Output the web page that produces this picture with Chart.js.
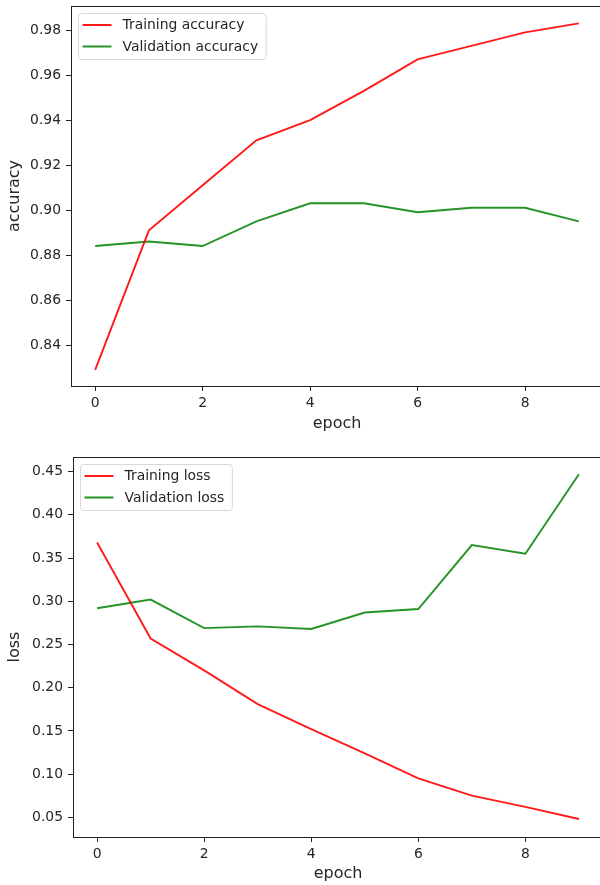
<!DOCTYPE html>
<html>
<head>
<meta charset="utf-8">
<script src="https://cdn.jsdelivr.net/npm/chart.js@4"></script>
<style>
    html, body { margin: 0; padding: 0; background: #fff; overflow: hidden; width: 600px; height: 885px; }
    .wrap { position: absolute; left: 0; width: 603px; }
    #accWrap { top: 0; height: 440px; }
    #lossWrap { top: 440px; height: 445px; }
</style>
</head>
<body>
<div class="wrap" id="accWrap"><canvas id="accChart"></canvas></div>
<div class="wrap" id="lossWrap"><canvas id="lossChart"></canvas></div>
<script>
// epochs 0..9
var epochs = [0, 1, 2, 3, 4, 5, 6, 7, 8, 9];
var trainAcc = [0.829, 0.891, 0.911, 0.931, 0.940, 0.953, 0.967, 0.973, 0.979, 0.983];
var valAcc = [0.884, 0.886, 0.884, 0.895, 0.903, 0.903, 0.899, 0.901, 0.901, 0.895];
var trainLoss = [0.368, 0.257, 0.220, 0.181, 0.152, 0.124, 0.095, 0.075, 0.062, 0.048];
var valLoss = [0.292, 0.302, 0.269, 0.271, 0.268, 0.287, 0.291, 0.365, 0.355, 0.447];

var epochTicks = [0, 2, 4, 6, 8];
var accTicks = [0.84, 0.86, 0.88, 0.90, 0.92, 0.94, 0.96, 0.98];
var lossTicks = [0.05, 0.10, 0.15, 0.20, 0.25, 0.30, 0.35, 0.40, 0.45];

var FONT = "'DejaVu Sans', sans-serif";
var TXT = '#262626';
var RED = 'rgba(255,0,0,0.9)';
var GREEN = 'rgba(0,128,0,0.85)';

// box round the plot + legend in the upper left corner
var framePlugin = {
    id: 'frame',
    afterDraw: function (chart) {
        var ctx = chart.ctx, a = chart.chartArea;
        ctx.save();
        ctx.strokeStyle = '#222';
        ctx.lineWidth = 1;
        ctx.strokeRect(Math.round(a.left) + 0.5, Math.round(a.top) + 0.5,
            Math.round(a.right - a.left), Math.round(a.bottom - a.top));

        var sets = chart.data.datasets;
        ctx.font = '13.9px ' + FONT;
        var maxW = 0;
        sets.forEach(function (d) { maxW = Math.max(maxW, ctx.measureText(d.label).width); });
        var bx = a.left + 7.5, by = a.top + 7.5;
        var bw = 44 + maxW + 8, bh = 46;
        ctx.beginPath();
        ctx.roundRect(bx, by, bw, bh, 3);
        ctx.fillStyle = 'rgba(255,255,255,0.8)';
        ctx.fill();
        ctx.strokeStyle = '#d8d8d8';
        ctx.stroke();
        ctx.textBaseline = 'middle';
        sets.forEach(function (d, i) {
            var y = by + 11.5 + i * 21.5;
            ctx.beginPath();
            ctx.moveTo(bx + 4, y);
            ctx.lineTo(bx + 33, y);
            ctx.strokeStyle = d.borderColor;
            ctx.lineWidth = 2;
            ctx.stroke();
            ctx.fillStyle = TXT;
            ctx.fillText(d.label, bx + 44, y + 0.5);
        });
        ctx.restore();
    }
};

function makeChart(id, labels, series, yTicks, yMin, yMax, yTitle, pad, leftW, bottomH, xTitlePad) {
    var ctx = document.getElementById(id).getContext('2d');
    return new Chart(ctx, {
        type: 'line',
        data: {
            datasets: [{
                label: labels[0],
                data: epochs.map(function (e, i) { return { x: e, y: series[0][i] }; }),
                borderColor: RED,
                borderWidth: 1.9,
                pointRadius: 0,
                tension: 0
            }, {
                label: labels[1],
                data: epochs.map(function (e, i) { return { x: e, y: series[1][i] }; }),
                borderColor: GREEN,
                borderWidth: 1.9,
                pointRadius: 0,
                tension: 0
            }]
        },
        options: {
            responsive: true,
            maintainAspectRatio: false,
            animation: false,
            layout: { padding: pad },
            plugins: { legend: { display: false }, tooltip: { enabled: false } },
            scales: {
                x: {
                    type: 'linear',
                    min: -0.45,
                    max: 9.45,
                    afterBuildTicks: function (s) { s.ticks = epochTicks.map(function (v) { return { value: v }; }); },
                    afterFit: function (s) { s.height = bottomH; s.paddingLeft = 0; s.paddingRight = 0; },
                    grid: { drawOnChartArea: false, drawTicks: true, tickLength: 5, color: '#222', tickWidth: 1 },
                    border: { display: false },
                    ticks: { color: TXT, font: { family: FONT, size: 13.9 }, padding: 4, maxRotation: 0 },
                    title: { display: true, text: 'epoch', color: TXT, font: { family: FONT, size: 16 }, padding: { top: 0, bottom: xTitlePad } }
                },
                y: {
                    min: yMin,
                    max: yMax,
                    afterBuildTicks: function (s) { s.ticks = yTicks.map(function (v) { return { value: v }; }); },
                    afterFit: function (s) { s.width = leftW; s.paddingTop = 0; s.paddingBottom = 0; },
                    grid: { drawOnChartArea: false, drawTicks: true, tickLength: 5, color: '#222', tickWidth: 1 },
                    border: { display: false },
                    ticks: { color: TXT, font: { family: FONT, size: 13.9 }, padding: 5,
                        callback: function (v) { return v.toFixed(2); } },
                    title: { display: true, text: yTitle, color: TXT, font: { family: FONT, size: 16 }, padding: { top: 5, bottom: 0 } }
                }
            }
        },
        plugins: [framePlugin]
    });
}

makeChart('accChart', ['Training accuracy', 'Validation accuracy'], [trainAcc, valAcc],
    accTicks, 0.8218, 0.9907, 'accuracy', { top: 6, right: 0, left: 0, bottom: 0 }, 71, 54, 7);
makeChart('lossChart', ['Training loss', 'Validation loss'], [trainLoss, valLoss],
    lossTicks, 0.0272, 0.467, 'loss', { top: 17, right: 0, left: 0, bottom: 0 }, 73, 48, 2);
</script>
</body>
</html>
